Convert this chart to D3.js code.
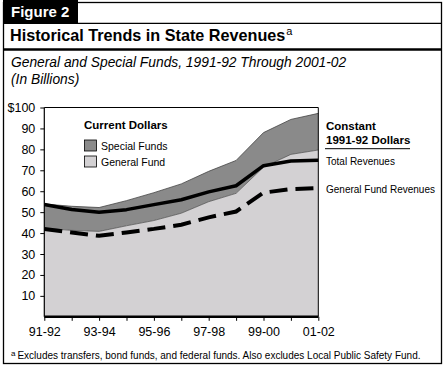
<!DOCTYPE html>
<html>
<head>
<meta charset="utf-8">
<script src="https://cdn.jsdelivr.net/npm/d3@7"></script>
<style>
  body { margin: 0; background: #fff; }
  svg { display: block; font-family: "Liberation Sans", Arial, Helvetica, sans-serif; }
</style>
</head>
<body>
<div id="chart"></div>
<script>
// fiscal years, 1991-92 through 2001-02
var years = ["91-92", "92-93", "93-94", "94-95", "95-96", "96-97", "97-98", "98-99", "99-00", "00-01", "01-02"];
var yearLabels = ["91-92", "93-94", "95-96", "97-98", "99-00", "01-02"];

// current dollars (billions)
var generalFund = [42.3, 41.3, 40.8, 43.5, 46.0, 49.5, 55.0, 59.0, 71.5, 77.6, 79.7];
var totalCurrent = [53.9, 52.8, 52.2, 55.5, 59.3, 63.5, 69.5, 74.7, 88.0, 94.3, 97.2];

// constant 1991-92 dollars (billions)
var totalConstant = [53.7, 51.3, 50.0, 51.2, 53.6, 55.9, 59.7, 62.6, 72.2, 74.4, 74.8];
var gfConstant = [42.0, 40.3, 38.7, 40.3, 42.0, 44.0, 47.5, 50.3, 59.3, 61.0, 61.5];

var yTicks = [10, 20, 30, 40, 50, 60, 70, 80, 90, 100];

var W = 445, H = 368;
var svg = d3.select("#chart").append("svg").attr("width", W).attr("height", H);

// ---- frame and header ----
svg.append("rect").attr("x", 3.5).attr("y", 2.5).attr("width", 438).attr("height", 361)
    .attr("fill", "none").attr("stroke", "#000").attr("stroke-width", 1.3);
svg.append("rect").attr("x", 3).attr("y", 0).attr("width", 75).attr("height", 23.5).attr("fill", "#000");
svg.append("line").attr("x1", 3).attr("x2", 442).attr("y1", 23.3).attr("y2", 23.3)
    .attr("stroke", "#000").attr("stroke-width", 1.2);
svg.append("line").attr("x1", 3).attr("x2", 442).attr("y1", 49.5).attr("y2", 49.5)
    .attr("stroke", "#000").attr("stroke-width", 2.6);

svg.append("text").attr("x", 11).attr("y", 17).attr("fill", "#fff")
    .style("font-size", "15px").style("font-weight", "bold").text("Figure 2");

var title = svg.append("text").attr("x", 10).attr("y", 41)
    .style("font-size", "16.2px").style("font-weight", "bold");
title.append("tspan").text("Historical Trends in State Revenues");
title.append("tspan").attr("dy", -6).attr("dx", 1).style("font-size", "11px").style("font-weight", "normal").text("a");

svg.append("text").attr("x", 11).attr("y", 66.5).style("font-size", "13.8px").style("font-style", "italic")
    .text("General and Special Funds, 1991-92 Through 2001-02");
svg.append("text").attr("x", 11).attr("y", 84).style("font-size", "13.8px").style("font-style", "italic")
    .text("(In Billions)");

// ---- scales ----
var x = d3.scalePoint().domain(years).range([44.3, 318.3]);
var y = d3.scaleLinear().domain([0, 100]).range([316.8, 107.5]);

var g = svg.append("g");

// stacked areas (current dollars)
var specialArea = d3.area()
    .x(function (d, i) { return x(years[i]); })
    .y0(function (d, i) { return y(generalFund[i]); })
    .y1(function (d) { return y(d); });
var gfArea = d3.area()
    .x(function (d, i) { return x(years[i]); })
    .y0(y(0))
    .y1(function (d) { return y(d); });
var line = d3.line()
    .x(function (d, i) { return x(years[i]); })
    .y(function (d) { return y(d); });

g.append("path").datum(totalCurrent).attr("d", specialArea).attr("fill", "#8a8a8a");
g.append("path").datum(generalFund).attr("d", gfArea).attr("fill", "#d3d1d3");
g.append("path").datum(totalCurrent).attr("d", line).attr("fill", "none")
    .attr("stroke", "#444").attr("stroke-width", 0.8);
g.append("path").datum(generalFund).attr("d", line).attr("fill", "none")
    .attr("stroke", "#555").attr("stroke-width", 0.8);

// constant dollar lines
g.append("path").datum(totalConstant).attr("d", line).attr("fill", "none")
    .attr("stroke", "#000").attr("stroke-width", 3.5).attr("stroke-linejoin", "round");
g.append("path").datum(gfConstant).attr("d", line).attr("fill", "none")
    .attr("stroke", "#000").attr("stroke-width", 4).attr("stroke-dasharray", "18,8");

// plot frame
g.append("line").attr("x1", 44.3).attr("x2", 318.3).attr("y1", y(100)).attr("y2", y(100))
    .attr("stroke", "#000").attr("stroke-width", 1);
g.append("line").attr("x1", 318.3).attr("x2", 318.3).attr("y1", y(100)).attr("y2", y(0))
    .attr("stroke", "#000").attr("stroke-width", 1);

// y axis
var yAxis = svg.append("g").attr("transform", "translate(44.3,0)")
    .call(d3.axisLeft(y).tickValues(yTicks).tickSize(4).tickPadding(5)
        .tickFormat(function (d) { return d === 100 ? "$100" : d; }));
yAxis.select(".domain").attr("d", "M0," + y(100) + "V" + y(0)).attr("stroke-width", 1.2);
yAxis.selectAll("text").style("font-size", "12.5px").style("font-family", "inherit").attr("fill", "#000");

// x axis
var xAxis = svg.append("g").attr("transform", "translate(0," + y(0) + ")")
    .call(d3.axisBottom(x).tickSize(4).tickPadding(6)
        .tickFormat(function (d) { return yearLabels.indexOf(d) >= 0 ? d : ""; }));
xAxis.select(".domain").attr("d", "M44.3,0H318.3").attr("stroke-width", 2.4);
xAxis.selectAll("text").style("font-size", "12.5px").style("font-family", "inherit").attr("fill", "#000");

// ---- legends ----
svg.append("text").attr("x", 84).attr("y", 128.5).style("font-size", "11.5px").style("font-weight", "bold")
    .text("Current Dollars");
var legendItems = [["Special Funds", "#8a8a8a"], ["General Fund", "#d3d1d3"]];
legendItems.forEach(function (d, i) {
    svg.append("rect").attr("x", 84.5).attr("y", 140 + i * 16).attr("width", 12).attr("height", 11)
        .attr("fill", d[1]).attr("stroke", "#000").attr("stroke-width", 0.8);
    svg.append("text").attr("x", 101).attr("y", 149.5 + i * 16).style("font-size", "10.5px").text(d[0]);
});

svg.append("text").attr("x", 326).attr("y", 130).style("font-size", "11.5px").style("font-weight", "bold")
    .text("Constant");
svg.append("text").attr("x", 326).attr("y", 144).style("font-size", "11.5px").style("font-weight", "bold")
    .text("1991-92 Dollars");
svg.append("line").attr("x1", 325).attr("x2", 410).attr("y1", 148.7).attr("y2", 148.7)
    .attr("stroke", "#000").attr("stroke-width", 1);
svg.append("text").attr("x", 326).attr("y", 164.5).style("font-size", "10px").text("Total Revenues");
svg.append("text").attr("x", 326).attr("y", 193).style("font-size", "10px").text("General Fund Revenues");

// footnote
var foot = svg.append("text").attr("x", 11).attr("y", 358.5).style("font-size", "10px");
foot.append("tspan").attr("dy", -3).style("font-size", "8px").text("a");
foot.append("tspan").attr("dy", 3).attr("dx", 2)
    .text("Excludes transfers, bond funds, and federal funds. Also excludes Local Public Safety Fund.");
</script>
</body>
</html>
